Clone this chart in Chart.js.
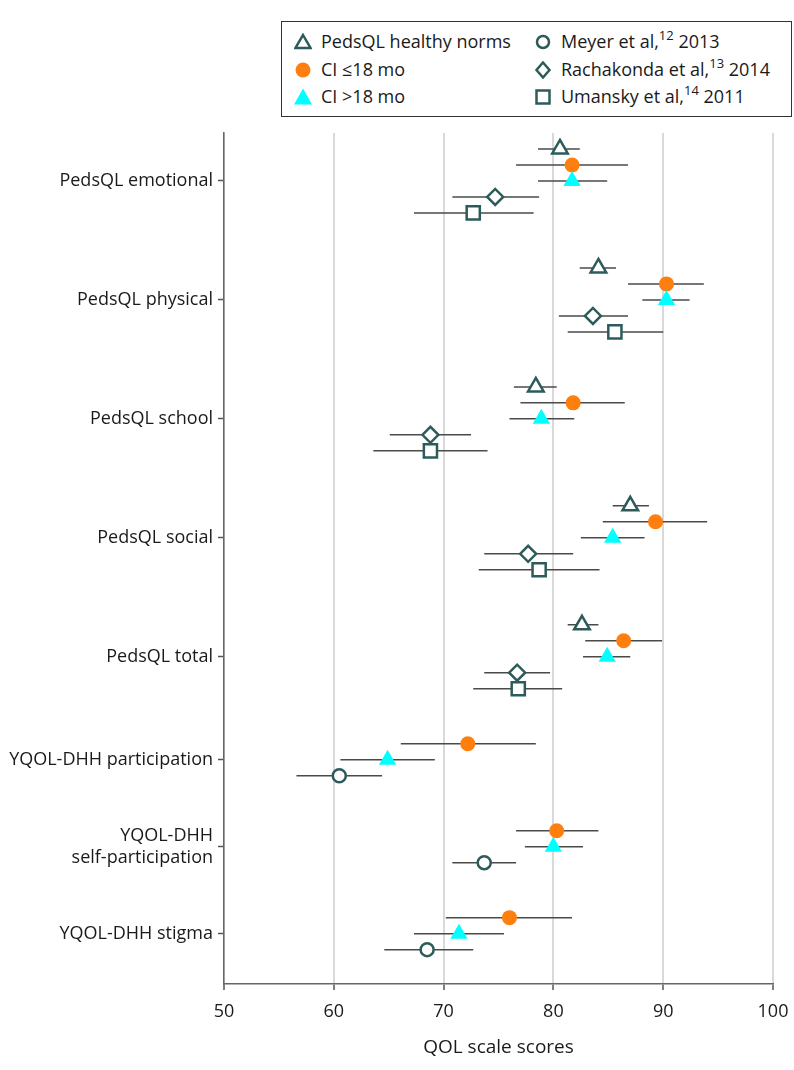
<!DOCTYPE html>
<html>
<head>
<meta charset="utf-8">
<script src="https://cdn.jsdelivr.net/npm/chart.js@4"></script>
<style>
  body { margin: 0; background: #fff; font-family: 'Open Sans', sans-serif; }
  #wrap { position: relative; width: 794px; height: 1070px; }
  #legend {
    position: absolute; left: 281px; top: 21px; width: 509px; height: 94px;
    border: 1.5px solid #333; background: #fff; color: #1a1a1a; font-size: 18px;
  }
  .item { position: absolute; height: 26px; line-height: 26px; white-space: nowrap; }
  .item svg { position: absolute; left: 0; top: 4px; }
  .item span { position: absolute; left: 27px; top: -1px; }
  sup { font-size: 13px; line-height: 0; position: relative; top: -1px; vertical-align: 7px; }
</style>
</head>
<body>
<div id="wrap">
  <canvas id="myChart" width="794" height="1070"></canvas>
  <div id="legend"></div>
</div>
<script>
// rows (top to bottom)
const categories = [
  "PedsQL emotional",
  "PedsQL physical",
  "PedsQL school",
  "PedsQL social",
  "PedsQL total",
  "YQOL-DHH participation",
  ["YQOL-DHH", "self-participation"],
  "YQOL-DHH stigma",
];
const xTicks = [50, 60, 70, 80, 90, 100];

// PedsQL healthy norms
const normsMean = [80.6, 84.1, 78.4, 87.0, 82.6, null, null, null];
const normsLo = [78.6, 82.4, 76.4, 85.4, 81.3, null, null, null];
const normsHi = [82.4, 85.7, 80.3, 88.7, 84.1, null, null, null];
// CI <=18 mo
const earlyMean = [81.7, 90.3, 81.8, 89.3, 86.4, 72.2, 80.3, 76.0];
const earlyLo = [76.6, 86.8, 77.0, 84.5, 82.9, 66.1, 76.6, 70.2];
const earlyHi = [86.8, 93.7, 86.5, 94.0, 89.9, 78.4, 84.1, 81.7];
// CI >18 mo
const lateMean = [81.7, 90.3, 78.9, 85.4, 84.9, 64.9, 80.0, 71.4];
const lateLo = [78.6, 88.1, 76.0, 82.5, 82.7, 60.6, 77.4, 67.3];
const lateHi = [84.9, 92.4, 81.9, 88.3, 87.0, 69.2, 82.7, 75.5];
// Rachakonda et al 2014
const rachMean = [74.7, 83.6, 68.8, 77.7, 76.7, null, null, null];
const rachLo = [70.8, 80.5, 65.1, 73.7, 73.7, null, null, null];
const rachHi = [78.7, 86.8, 72.5, 81.8, 79.7, null, null, null];
// Umansky et al 2011
const umanMean = [72.7, 85.6, 68.8, 78.7, 76.8, null, null, null];
const umanLo = [67.3, 81.3, 63.6, 73.2, 72.7, null, null, null];
const umanHi = [78.2, 90.0, 74.0, 84.2, 80.8, null, null, null];
// Meyer et al 2013
const meyerMean = [null, null, null, null, null, 60.5, 73.7, 68.5];
const meyerLo = [null, null, null, null, null, 56.6, 70.8, 64.6];
const meyerHi = [null, null, null, null, null, 64.4, 76.6, 72.7];

const TEAL = "#2d5b5b";
const series = [
  { label: "PedsQL healthy norms", mean: normsMean, lo: normsLo, hi: normsHi,
    style: "triangle", r: 9, fill: "#fff", stroke: TEAL, bw: 2.5 },
  { label: "CI ≤18 mo", mean: earlyMean, lo: earlyLo, hi: earlyHi,
    style: "circle", r: 7.5, fill: "#ff7f0e", stroke: "#ff7f0e", bw: 0 },
  { label: "CI >18 mo", mean: lateMean, lo: lateLo, hi: lateHi,
    style: "triangle", r: 10, fill: "#00ffff", stroke: "#00ffff", bw: 0 },
  { label: "Rachakonda et al 2014", mean: rachMean, lo: rachLo, hi: rachHi,
    style: "rectRot", r: 8, fill: "#fff", stroke: TEAL, bw: 2.5 },
  { label: "Umansky et al 2011", mean: umanMean, lo: umanLo, hi: umanHi,
    style: "rect", r: 9.3, fill: "#fff", stroke: TEAL, bw: 2.5 },
  { label: "Meyer et al 2013", mean: meyerMean, lo: meyerLo, hi: meyerHi,
    style: "circle", r: 6.5, fill: "#fff", stroke: TEAL, bw: 2.5 },
];

// row layout: one unit per marker slot, extra gap between rows
const gap = 2.44;
const counts = categories.map((c, i) => series.filter(s => s.mean[i] != null).length);
const rowPos = [];
counts.forEach((n, i) => {
  if (i === 0) rowPos.push((n - 1) / 2 + 1);
  else rowPos.push(rowPos[i - 1] + (counts[i - 1] + n) / 2 + gap);
});
const slotY = (i, si) => {
  const present = series.map((s, k) => k).filter(k => series[k].mean[i] != null);
  return rowPos[i] + present.indexOf(si) - (present.length - 1) / 2;
};
const yMax = rowPos[rowPos.length - 1] + (counts[counts.length - 1] - 1) / 2 + 2.15;

const datasets = series.map((s, si) => ({
  label: s.label,
  data: s.mean.map((v, i) => v == null ? null : { x: v, y: slotY(i, si), lo: s.lo[i], hi: s.hi[i] }).filter(d => d),
  pointStyle: s.style,
  pointRadius: s.r,
  pointHoverRadius: s.r,
  backgroundColor: s.fill,
  borderColor: s.stroke,
  pointBorderWidth: s.bw,
  order: -si,
}));

// horizontal CI whiskers, drawn under the markers
const whiskers = {
  id: "whiskers",
  beforeDatasetsDraw(chart) {
    const { ctx, scales: { x, y } } = chart;
    ctx.save();
    ctx.strokeStyle = "#4a4a4a";
    ctx.lineWidth = 1.5;
    chart.data.datasets.forEach(ds => {
      ds.data.forEach(d => {
        const py = y.getPixelForValue(d.y);
        ctx.beginPath();
        ctx.moveTo(x.getPixelForValue(d.lo), py);
        ctx.lineTo(x.getPixelForValue(d.hi), py);
        ctx.stroke();
      });
    });
    ctx.restore();
  },
};

Chart.defaults.font.family = "'Open Sans', sans-serif";
Chart.defaults.font.size = 18;
Chart.defaults.color = "#1a1a1a";

new Chart(document.getElementById("myChart"), {
  type: "scatter",
  data: { datasets },
  plugins: [whiskers],
  options: {
    responsive: false,
    animation: false,
    layout: { padding: { top: 133, right: 21, left: 0, bottom: 0 } },
    plugins: { legend: { display: false }, tooltip: { enabled: false } },
    scales: {
      x: {
        type: "linear",
        min: xTicks[0],
        max: xTicks[xTicks.length - 1],
        afterBuildTicks: scale => { scale.ticks = xTicks.map(v => ({ value: v })); },
        afterFit: scale => {
          scale.height = 86;
          scale.paddingLeft = 0;
          scale.paddingRight = 0;
        },
        grid: { color: "#d9d9d9", lineWidth: 2, tickColor: "#555", tickLength: 6, tickWidth: 1.5 },
        border: { color: "#666", width: 1.5 },
        ticks: { padding: 11, color: "#1a1a1a" },
        title: { display: true, text: "QOL scale scores", font: { size: 19 },
          padding: { top: 6, bottom: 11 }, color: "#1a1a1a" },
      },
      y: {
        type: "linear",
        reverse: true,
        min: 0,
        max: yMax,
        afterBuildTicks: scale => { scale.ticks = rowPos.map(v => ({ value: v })); },
        afterFit: scale => { scale.width = 224; },
        grid: { drawOnChartArea: false, tickColor: "#555", tickLength: 6, tickWidth: 1.5 },
        border: { color: "#666", width: 1.5 },
        ticks: { autoSkip: false, padding: 5, color: "#1a1a1a",
          callback: (v, i) => categories[i] },
      },
    },
  },
});

// legend with superscript references
const legendItems = [
  { col: 0, row: 0, svg: '<polygon points="9,2 16.5,15 1.5,15" fill="#fff" stroke="' + TEAL + '" stroke-width="2.5"/>', html: "PedsQL healthy norms" },
  { col: 0, row: 1, svg: '<circle cx="9" cy="9" r="7.5" fill="#ff7f0e"/>', html: "CI ≤18 mo" },
  { col: 0, row: 2, svg: '<polygon points="9,0.5 18,16.5 0,16.5" fill="#00ffff"/>', html: "CI &gt;18 mo" },
  { col: 1, row: 0, svg: '<circle cx="9" cy="9" r="6" fill="#fff" stroke="' + TEAL + '" stroke-width="2.5"/>', html: "Meyer et al,<sup>12</sup> 2013" },
  { col: 1, row: 1, svg: '<polygon points="9,1.5 15.5,9 9,16.5 2.5,9" fill="#fff" stroke="' + TEAL + '" stroke-width="2.5"/>', html: "Rachakonda et al,<sup>13</sup> 2014" },
  { col: 1, row: 2, svg: '<rect x="2.5" y="2.5" width="13" height="13" fill="#fff" stroke="' + TEAL + '" stroke-width="2.5"/>', html: "Umansky et al,<sup>14</sup> 2011" },
];
const legend = document.getElementById("legend");
legendItems.forEach(it => {
  const el = document.createElement("div");
  el.className = "item";
  el.style.left = (it.col === 0 ? 12 : 252) + "px";
  el.style.top = (7 + it.row * 27.5) + "px";
  el.innerHTML = '<svg width="18" height="18" viewBox="0 0 18 18">' + it.svg + "</svg><span>" + it.html + "</span>";
  legend.appendChild(el);
});
</script>
</body>
</html>
